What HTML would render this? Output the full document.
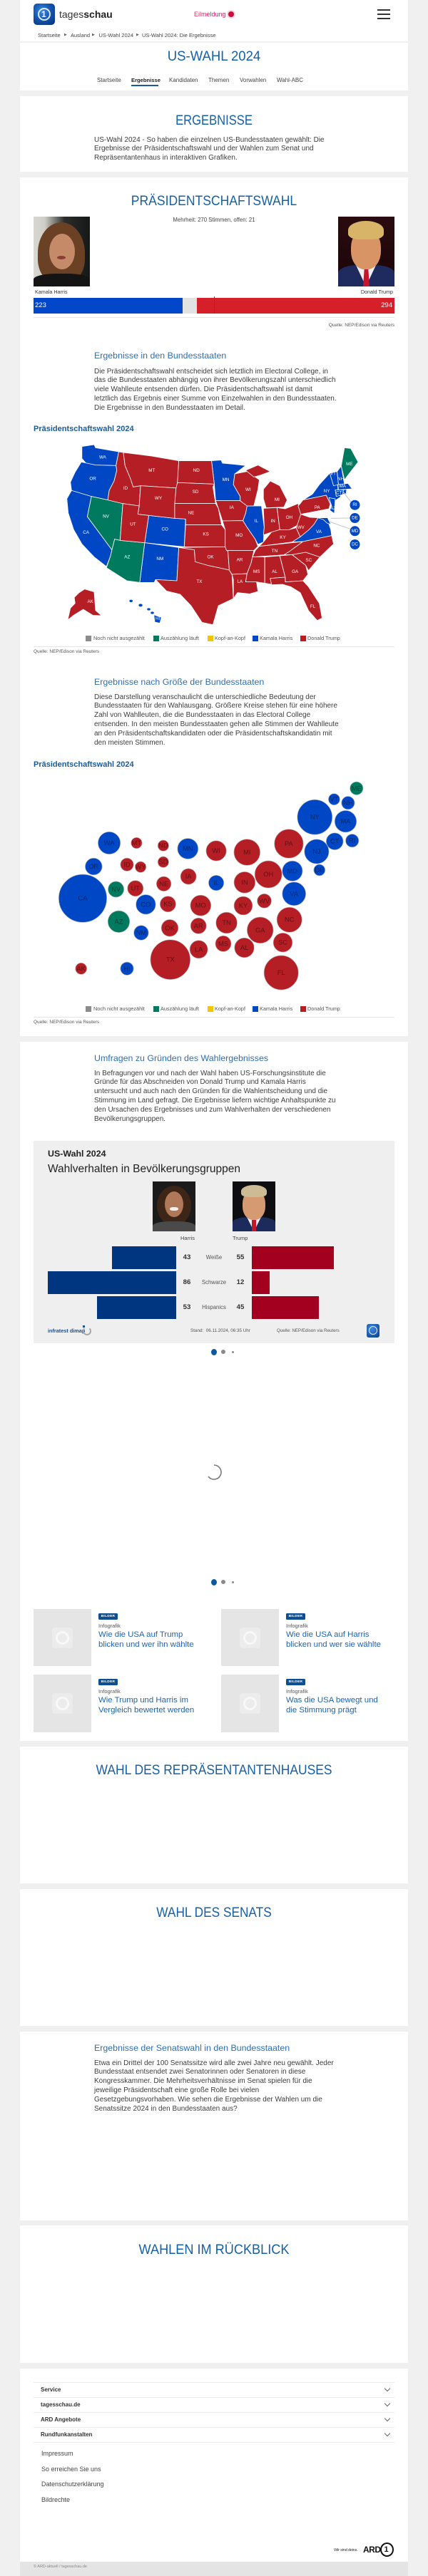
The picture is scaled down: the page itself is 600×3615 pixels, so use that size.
<!DOCTYPE html>
<html lang="de"><head><meta charset="utf-8"><title>US-Wahl 2024: Die Ergebnisse</title>
<style>
*{box-sizing:border-box}
html,body{margin:0;padding:0}
body{width:600px;height:3615px;background:#f0f0f0;position:relative;overflow:hidden;font-family:"Liberation Sans",Arial,sans-serif;color:#333}
.a{position:absolute;white-space:nowrap}
.card{position:absolute;left:28px;width:544px;background:#fff}
.h{position:absolute;left:0;width:600px;text-align:center;color:#1560a8;font-size:19.5px;line-height:24px;white-space:nowrap}
.sub{position:absolute;left:132px;color:#2c6fb4;font-size:12.4px;line-height:16px;white-space:nowrap}
.p{position:absolute;left:132px;color:#3c3c3c;font-size:10px;line-height:12.9px;white-space:nowrap}
.chart{position:absolute;left:47px;color:#1b5a9a;font-weight:bold;font-size:11px;line-height:14px;white-space:nowrap}
.lg{position:absolute;font-size:7.3px;line-height:10px;color:#555;white-space:nowrap}
.sq{position:absolute;width:8px;height:8px}
.src{position:absolute;font-size:6.5px;line-height:8px;color:#555;white-space:nowrap}
.hr{position:absolute;left:47px;width:506px;height:1px;background:#e6e6e6}
.bc{position:absolute;top:45px;font-size:7.5px;line-height:9px;color:#444;white-space:nowrap}
.ar{position:absolute;top:46px;font-size:5px;line-height:7px;color:#666}
.nav{position:absolute;top:108px;font-size:8px;line-height:10px;color:#444;white-space:nowrap}
.thumb{position:absolute;width:81px;height:80px;background:#e5e5e5}
.thumb i{position:absolute;left:26px;top:26px;width:29px;height:29px;background:#ececec;border-radius:4px}
.thumb i:after{content:"";position:absolute;left:5px;top:5px;width:19px;height:19px;border-radius:50%;border:3px solid #f8f8f8;box-sizing:border-box}
.badge{position:absolute;width:27px;height:9px;background:#0d4f91;border-radius:1.5px;color:#fff;font-size:4.8px;font-weight:bold;line-height:9px;text-align:center;letter-spacing:.3px}
.inf{position:absolute;font-size:7.5px;line-height:9px;color:#555}
.tt{position:absolute;font-size:11.4px;line-height:14px;color:#1e63ac;white-space:nowrap}
.fl{position:absolute;left:47px;width:506px;height:1px;background:#ebebeb}
.fi{position:absolute;left:57px;font-size:8px;font-weight:bold;line-height:10px;color:#333}
.chev{position:absolute;left:540px;width:6px;height:6px;border-right:1px solid #666;border-bottom:1px solid #666;transform:rotate(45deg)}
.fk{position:absolute;left:58px;font-size:9px;line-height:11px;color:#444}
.num{position:absolute;font-size:9.6px;font-weight:bold;line-height:12px;color:#333;text-align:center;width:20px}
.grp{position:absolute;font-size:7.8px;line-height:10px;color:#555;text-align:center;width:50px}
</style></head><body>

<!-- Card 1: header -->
<div class="card" style="top:0;height:127px"></div>
<div class="a" style="left:47px;top:5px;width:30px;height:30px;border-radius:5px;background:radial-gradient(circle at 40% 35%,#3d8be0 0,#1557b0 45%,#072f73 100%)"></div>
<div class="a" style="left:53px;top:11px;width:18px;height:18px;border-radius:50%;border:2px solid rgba(255,255,255,.85)"></div>
<div class="a" style="left:58px;top:12px;font-size:12px;font-weight:bold;color:#fff;line-height:16px">1</div>
<div class="a" style="left:83px;top:11px;font-size:14px;line-height:18px;color:#333">tages<b style="color:#222">schau</b></div>
<div class="a" style="left:272px;top:15px;font-size:9px;line-height:11px;color:#d02a60">Eilmeldung</div>
<div class="a" style="left:320px;top:16px;width:8px;height:8px;border-radius:50%;background:#c8103e;box-shadow:0 0 0 2px #f9d3de"></div>
<div class="a" style="left:529px;top:13px;width:18px;height:2px;background:#333"></div>
<div class="a" style="left:529px;top:19px;width:18px;height:2px;background:#333"></div>
<div class="a" style="left:529px;top:25px;width:18px;height:2px;background:#333"></div>
<div class="bc" style="left:53px">Startseite</div><div class="ar" style="left:90px">▶</div>
<div class="bc" style="left:99px">Ausland</div><div class="ar" style="left:129px">▶</div>
<div class="bc" style="left:138.5px">US-Wahl 2024</div><div class="ar" style="left:191px">▶</div>
<div class="bc" style="left:199px">US-Wahl 2024: Die Ergebnisse</div>
<div class="a" style="left:28px;top:58px;width:544px;height:2px;background:#f1f1f1"></div>
<div class="h" style="top:67px;transform:scaleX(.95)">US-WAHL 2024</div>
<div class="nav" style="left:136px">Startseite</div>
<div class="nav" style="left:184px;font-weight:bold;color:#222;font-size:7.6px">Ergebnisse</div>
<div class="a" style="left:184px;top:119px;width:38px;height:2px;background:#1b5a9a"></div>
<div class="nav" style="left:237px">Kandidaten</div>
<div class="nav" style="left:292px">Themen</div>
<div class="nav" style="left:336px">Vorwahlen</div>
<div class="nav" style="left:388px">Wahl-ABC</div>

<!-- Card 2 -->
<div class="card" style="top:135px;height:106px"></div>
<div class="h" style="top:157px;transform:scaleX(.85)">ERGEBNISSE</div>
<div class="p" style="top:190.5px">US-Wahl 2024 - So haben die einzelnen US-Bundesstaaten gewählt: Die<br>Ergebnisse der Präsidentschaftswahl und der Wahlen zum Senat und<br>Repräsentantenhaus in interaktiven Grafiken.</div>

<!-- Card 3 -->
<div class="card" style="top:249px;height:1205px"></div>
<div class="h" style="top:270px;transform:scaleX(.9)">PRÄSIDENTSCHAFTSWAHL</div>
<div class="a" style="left:0;width:600px;text-align:center;top:304px;font-size:7.8px;line-height:10px;color:#444">Mehrheit: 270 Stimmen, offen: 21</div>

<!-- Harris photo -->
<div class="a" style="left:47px;top:304px;width:79px;height:98px;overflow:hidden;background:linear-gradient(90deg,#d9d8d3 0,#cfcdc6 20%,#2b2d2b 55%,#141817 100%)">
  <div class="a" style="left:6px;top:8px;width:66px;height:86px;border-radius:50% 50% 40% 40%;background:#6a4125"></div>
  <div class="a" style="left:22px;top:24px;width:36px;height:50px;border-radius:50%;background:#c58a68"></div>
  <div class="a" style="left:33px;top:55px;width:12px;height:5px;border-radius:50%;background:#8a3d3a"></div>
  <div class="a" style="left:0;top:80px;width:79px;height:20px;border-radius:40% 40% 0 0;background:#141414"></div>
</div>
<!-- Trump photo -->
<div class="a" style="left:474px;top:304px;width:79px;height:98px;overflow:hidden;background:linear-gradient(180deg,#2a0b10,#1a0508)">
  <div class="a" style="left:0;top:68px;width:79px;height:32px;border-radius:35% 35% 0 0;background:#1f2a5e"></div>
  <div class="a" style="left:24px;top:66px;width:30px;height:32px;background:#eef0f4;clip-path:polygon(0 0,100% 0,50% 100%)"></div>
  <div class="a" style="left:35px;top:72px;width:9px;height:26px;background:#c3162a;clip-path:polygon(20% 0,80% 0,100% 100%,0 100%)"></div>
  <div class="a" style="left:18px;top:18px;width:42px;height:56px;border-radius:45%;background:#d99466"></div>
  <div class="a" style="left:14px;top:6px;width:50px;height:26px;border-radius:50% 50% 30% 30%;background:#d8b469"></div>
</div>
<div class="a" style="left:49px;top:405px;font-size:7.2px;line-height:10px;color:#333">Kamala Harris</div>
<div class="a" style="left:453px;width:98px;text-align:right;top:405px;font-size:7.2px;line-height:10px;color:#333">Donald Trump</div>
<div class="a" style="left:47px;top:418px;width:209px;height:22px;background:#0047cc"></div>
<div class="a" style="left:256px;top:418px;width:20px;height:22px;background:#e2e2e2"></div>
<div class="a" style="left:276px;top:418px;width:277px;height:22px;background:#d62029"></div>
<div class="a" style="left:300px;top:416px;width:0;height:24px;border-left:1px dotted #444"></div>
<div class="a" style="left:49px;top:423px;font-size:9.5px;line-height:12px;color:#fff">223</div>
<div class="a" style="left:500px;width:50px;text-align:right;top:423px;font-size:9.5px;line-height:12px;color:#fff">294</div>
<div class="hr" style="top:445px"></div>
<div class="src" style="left:400px;width:153px;text-align:right;top:453px">Quelle: NEP/Edison via Reuters</div>

<div class="sub" style="top:491px">Ergebnisse in den Bundesstaaten</div>
<div class="p" style="top:515.5px">Die Präsidentschaftswahl entscheidet sich letztlich im Electoral College, in<br>das die Bundesstaaten abhängig von ihrer Bevölkerungszahl unterschiedlich<br>viele Wahlleute entsenden dürfen. Die Präsidentschaftswahl ist damit<br>letztlich das Ergebnis einer Summe von Einzelwahlen in den Bundesstaaten.<br>Die Ergebnisse in den Bundesstaaten im Detail.</div>
<div class="chart" style="top:595px">Präsidentschaftswahl 2024</div>

<!-- US map -->
<svg class="a" style="left:0;top:480px" width="600" height="400" viewBox="0 0 1568 1200" preserveAspectRatio="none">
<g stroke="#fff" stroke-width="2.2" stroke-linejoin="round">
<g fill="#0047c6">
<polygon points="300,440 345,432 350,445 435,462 425,520 350,518 315,510 300,490"/>
<polygon points="298,505 350,518 425,520 428,540 418,585 400,625 395,665 335,650 262,625 258,590 275,548"/>
<polygon points="262,625 335,650 320,735 410,875 405,900 390,945 345,905 300,850 270,790 250,720 245,660"/>
<polygon points="545,730 640,742 680,745 675,862 530,845"/>
<polygon points="530,845 655,865 648,1005 570,1000 565,1012 512,1012"/>
<polygon points="775,500 810,497 815,510 860,515 900,520 860,555 855,600 880,650 880,668 790,668 785,598"/>
<polygon points="905,690 958,690 968,780 965,842 945,852 935,830 905,780 890,752 900,720"/>
<polygon points="1070,842 1100,820 1130,792 1150,768 1165,740 1200,750 1212,790 1215,815 1110,840"/>
<polygon points="1110,665 1145,640 1170,600 1208,552 1235,545 1238,620 1248,652 1210,682 1195,645"/>
<polygon points="1208,552 1235,545 1240,600 1222,605"/>
<polygon points="1235,545 1250,522 1262,598 1240,600"/>
<polygon points="1238,600 1275,595 1290,618 1240,622"/>
<polygon points="1228,622 1258,622 1256,642 1232,650"/>
<polygon points="1258,622 1270,620 1268,638 1256,642"/>
<polygon points="1205,655 1228,660 1225,722 1208,708 1215,690"/>
<polygon points="1165,740 1200,740 1212,768 1198,762 1185,748"/>
</g>
<g fill="#007a5e">
<polygon points="335,650 395,665 450,680 440,835 420,830 410,875 320,735"/>
<polygon points="440,835 530,845 512,1012 465,1005 390,950 405,900 410,875 420,830"/>
<polygon points="1250,522 1262,445 1285,448 1312,505 1275,560 1262,580"/>
</g>
<g fill="#b41e24">
<polygon points="435,462 452,465 458,520 478,575 488,610 515,605 510,690 450,680 395,665 400,625 418,585 428,540 425,520"/>
<polygon points="452,465 555,480 655,500 650,615 515,605 488,610 478,575 458,520"/>
<polygon points="515,605 650,615 640,742 505,725 510,690"/>
<polygon points="450,680 510,690 505,725 545,730 530,845 440,835"/>
<polygon points="655,500 775,500 785,598 650,592"/>
<polygon points="650,592 785,598 780,610 790,680 640,680 645,615"/>
<polygon points="640,680 790,680 800,700 812,770 680,770 680,745 640,742"/>
<polygon points="680,770 812,770 825,790 825,862 675,862"/>
<polygon points="655,865 825,862 835,880 840,960 800,950 760,940 715,925 712,875"/>
<polygon points="655,865 712,875 715,925 760,940 800,950 840,960 850,980 855,1080 800,1110 780,1190 740,1180 700,1110 660,1062 610,1048 570,1000 648,1005"/>
<polygon points="790,668 880,668 905,690 900,720 890,752 815,753 800,700"/>
<polygon points="815,753 890,752 905,780 935,830 945,860 930,878 830,878 825,862 825,790"/>
<polygon points="830,878 930,878 920,930 905,975 850,978 840,960 835,880"/>
<polygon points="850,978 905,975 900,1010 940,1010 945,1050 915,1060 870,1055 855,1080 855,1000"/>
<polygon points="860,555 905,545 950,580 945,620 930,690 905,690 880,668 880,650 855,600"/>
<polygon points="900,540 945,518 990,545 955,560 930,568"/>
<polygon points="965,620 990,585 1025,605 1052,665 1040,695 975,698 965,660"/>
<polygon points="965,700 1015,697 1025,790 995,800 965,812 968,780"/>
<polygon points="1015,697 1045,702 1092,680 1102,725 1095,768 1060,790 1025,790"/>
<polygon points="965,842 995,800 1025,790 1060,790 1085,782 1100,820 1070,842 950,860"/>
<polygon points="950,860 1070,845 1110,840 1080,865 1060,882 1040,896 925,905 935,878"/>
<polygon points="925,905 970,905 970,1015 940,1010 900,1010 905,975 920,930"/>
<polygon points="970,905 1025,900 1045,990 990,995 995,1020 970,1015"/>
<polygon points="1025,900 1070,895 1120,940 1128,978 1110,1005 1045,1010 1045,990"/>
<polygon points="990,995 1045,990 1045,1010 1110,1005 1130,1030 1170,1100 1180,1162 1162,1172 1130,1130 1100,1055 1065,1030 1035,1020 995,1022"/>
<polygon points="1070,895 1120,885 1172,905 1130,962 1120,940"/>
<polygon points="1040,896 1060,882 1080,865 1110,840 1215,815 1222,850 1172,905 1120,885 1070,895"/>
<polygon points="1092,760 1102,725 1135,738 1165,740 1150,768 1130,792 1100,820 1085,782"/>
<polygon points="1100,680 1110,665 1195,645 1210,682 1205,702 1102,725 1092,690"/>
<polygon points="290,1055 310,1040 345,1052 350,1130 372,1152 340,1150 305,1125 270,1150 248,1170 258,1120 275,1100 272,1075"/>
</g>
</g>
<g fill="#0047c6">
<ellipse cx="480" cy="1090" rx="6" ry="5"/><ellipse cx="515" cy="1108" rx="7" ry="6"/><ellipse cx="545" cy="1125" rx="6" ry="5"/><ellipse cx="558" cy="1140" rx="6" ry="5"/>
<polygon points="565,1150 590,1160 585,1182 568,1178"/>
</g>
<g stroke="#c8c8c8" stroke-width="3" fill="none">
<line x1="1258" y1="632" x2="1288" y2="676"/><line x1="1212" y1="742" x2="1282" y2="741"/><line x1="1206" y1="756" x2="1286" y2="788"/>
</g>
</svg>
<svg class="a" style="left:0;top:480px" width="600" height="400" viewBox="0 0 600 400">
<g fill="#0047c6"><circle cx="497.5" cy="228.7" r="7"/><circle cx="497.5" cy="247" r="7"/><circle cx="497.5" cy="265.3" r="7"/><circle cx="497.5" cy="284" r="7"/></g>
<g fill="#fff" font-family="Liberation Sans, Arial, sans-serif" font-size="6.3" text-anchor="middle" dominant-baseline="central">
<text x="143.9" y="162">WA</text><text x="130.1" y="192">OR</text><text x="120.6" y="267.3">CA</text><text x="148.5" y="245">NV</text><text x="176" y="205.7">ID</text><text x="212.8" y="180.3">MT</text><text x="222" y="219.3">WY</text><text x="186.4" y="256">UT</text><text x="231.2" y="263">CO</text><text x="178.3" y="302">AZ</text><text x="224.3" y="304.3">NM</text><text x="275.2" y="180.3">ND</text><text x="274" y="210.3">SD</text><text x="267.9" y="240">NE</text><text x="288.6" y="270">KS</text><text x="295.1" y="302">OK</text><text x="279.4" y="336.7">TX</text><text x="316.5" y="193.3">MN</text><text x="324.9" y="232.7">IA</text><text x="335.2" y="271.7">MO</text><text x="336" y="306">AR</text><text x="336.4" y="336.7">LA</text><text x="347.9" y="207.7">WI</text><text x="359.4" y="251.7">IL</text><text x="388.4" y="221.3">MI</text><text x="382.7" y="251.7">IN</text><text x="405.3" y="246.7">OH</text><text x="396.5" y="274.3">KY</text><text x="385" y="293.3">TN</text><text x="359.7" y="322.7">MS</text><text x="385" y="322.7">AL</text><text x="413.7" y="322.7">GA</text><text x="438.6" y="371.7">FL</text><text x="432.8" y="306.7">SC</text><text x="443.9" y="286">NC</text><text x="447" y="266.7">VA</text><text x="421.7" y="260.7">WV</text><text x="444.7" y="232.7">PA</text><text x="458.1" y="209.3">NY</text><text x="466.9" y="185">VT</text><text x="477.6" y="192.3">NH</text><text x="489.9" y="171.3">ME</text><text x="480.3" y="202.7">MA</text><text x="475.3" y="212">CT</text><text x="466.1" y="233.3">NJ</text><text x="126.7" y="364.3">AK</text><text x="221.2" y="388.3">HI</text>
<text x="497.5" y="228.7">RI</text><text x="497.5" y="247">DE</text><text x="497.5" y="265.3">MD</text><text x="497.5" y="284">DC</text>
</g>
</svg>

<!-- Legend 1 -->
<div class="sq" style="left:120px;top:892px;background:#8c8c8c"></div><div class="lg" style="left:131px;top:891px">Noch nicht ausgezählt</div>
<div class="sq" style="left:215px;top:892px;background:#007a5e"></div><div class="lg" style="left:225px;top:891px">Auszählung läuft</div>
<div class="sq" style="left:291px;top:892px;background:#f2c500"></div><div class="lg" style="left:301px;top:891px">Kopf-an-Kopf</div>
<div class="sq" style="left:354px;top:892px;background:#0047c6"></div><div class="lg" style="left:364px;top:891px">Kamala Harris</div>
<div class="sq" style="left:421px;top:892px;background:#b41e24"></div><div class="lg" style="left:431px;top:891px">Donald Trump</div>
<div class="hr" style="top:907px"></div>
<div class="src" style="left:47px;top:911px">Quelle: NEP/Edison via Reuters</div>

<div class="sub" style="top:949px">Ergebnisse nach Größe der Bundesstaaten</div>
<div class="p" style="top:972.5px">Diese Darstellung veranschaulicht die unterschiedliche Bedeutung der<br>Bundesstaaten für den Wahlausgang. Größere Kreise stehen für eine höhere<br>Zahl von Wahlleuten, die die Bundesstaaten in das Electoral College<br>entsenden. In den meisten Bundesstaaten gehen alle Stimmen der Wahlleute<br>an den Präsidentschaftskandidaten oder die Präsidentschaftskandidatin mit<br>den meisten Stimmen.</div>
<div class="chart" style="top:1066px">Präsidentschaftswahl 2024</div>

<!-- Bubble map -->
<svg class="a" style="left:0;top:880px" width="600" height="520" viewBox="0 0 600 520">
<g stroke="#bdbdbd" stroke-width=".7">
<g fill="#0047c6">
<circle cx="468.4" cy="241.7" r="8"/><circle cx="487.9" cy="246.7" r="9.2"/><circle cx="441.3" cy="266.7" r="24.5"/><circle cx="484.5" cy="272.7" r="15.3"/><circle cx="469.2" cy="300.7" r="11.9"/><circle cx="493.7" cy="299.7" r="9.2"/><circle cx="443.9" cy="315" r="17.2"/><circle cx="447.8" cy="341" r="8"/><circle cx="153.1" cy="303" r="15.7"/><circle cx="263.3" cy="311" r="14.5"/><circle cx="131.3" cy="336" r="11.9"/><circle cx="303.1" cy="359" r="10.7"/><circle cx="409.9" cy="342.3" r="14.2"/><circle cx="116" cy="380.7" r="33.7"/><circle cx="204.4" cy="389.3" r="13.8"/><circle cx="412.2" cy="374.3" r="16.5"/><circle cx="197.9" cy="429" r="10.3"/><circle cx="178" cy="479.3" r="9.2"/>
</g>
<g fill="#007a5e"><circle cx="499.8" cy="226.3" r="9.2"/><circle cx="162.6" cy="368" r="11.1"/><circle cx="166.5" cy="413.3" r="15.3"/></g>
<g fill="#b41e24">
<circle cx="404.9" cy="304" r="20.3"/><circle cx="191.4" cy="303" r="7.7"/><circle cx="228.9" cy="306.7" r="7.7"/><circle cx="303.1" cy="314" r="14.2"/><circle cx="346.3" cy="316" r="18.4"/><circle cx="178" cy="333.3" r="9.2"/><circle cx="197.1" cy="336.7" r="7.7"/><circle cx="228.9" cy="329.7" r="7.7"/><circle cx="264.1" cy="350" r="11.1"/><circle cx="342.9" cy="358.3" r="14.9"/><circle cx="376.2" cy="347" r="19.1"/><circle cx="189.8" cy="366.7" r="11.1"/><circle cx="229.6" cy="360.3" r="10.3"/><circle cx="235.4" cy="388.7" r="11.1"/><circle cx="281.3" cy="390.7" r="14.5"/><circle cx="341" cy="391" r="13"/><circle cx="370.5" cy="384.3" r="10"/><circle cx="238" cy="422.3" r="11.9"/><circle cx="278.2" cy="419.3" r="11.1"/><circle cx="317.6" cy="415" r="14.9"/><circle cx="364.7" cy="425.3" r="18.4"/><circle cx="405.7" cy="410.7" r="17.6"/><circle cx="396.5" cy="442.7" r="13.4"/><circle cx="238.8" cy="466.7" r="27.9"/><circle cx="278.6" cy="452.3" r="12.6"/><circle cx="313" cy="444.3" r="11.1"/><circle cx="342.5" cy="450" r="13.8"/><circle cx="394.2" cy="485" r="24.1"/><circle cx="113.7" cy="479.3" r="8"/>
</g>
</g>
<g fill="rgba(0,0,0,.45)" font-family="Liberation Sans, Arial, sans-serif" font-size="9.3" text-anchor="middle" dominant-baseline="central">
<text x="499.8" y="226.3">ME</text><text x="468.4" y="241.7">VT</text><text x="487.9" y="246.7">NH</text><text x="441.3" y="266.7">NY</text><text x="484.5" y="272.7">MA</text><text x="404.9" y="304">PA</text><text x="469.2" y="300.7">CT</text><text x="493.7" y="299.7">RI</text><text x="443.9" y="315">NJ</text><text x="447.8" y="341">DE</text><text x="153.1" y="303">WA</text><text x="191.4" y="303">MT</text><text x="228.9" y="306.7">ND</text><text x="263.3" y="311">MN</text><text x="303.1" y="314">WI</text><text x="346.3" y="316">MI</text><text x="131.3" y="336">OR</text><text x="178" y="333.3">ID</text><text x="197.1" y="336.7">WY</text><text x="228.9" y="329.7">SD</text><text x="264.1" y="350">IA</text><text x="303.1" y="359">IL</text><text x="342.9" y="358.3">IN</text><text x="376.2" y="347">OH</text><text x="409.9" y="342.3">MD</text><text x="116" y="380.7">CA</text><text x="162.6" y="368">NV</text><text x="189.8" y="366.7">UT</text><text x="229.6" y="360.3">NE</text><text x="204.4" y="389.3">CO</text><text x="235.4" y="388.7">KS</text><text x="281.3" y="390.7">MO</text><text x="341" y="391">KY</text><text x="370.5" y="384.3">WV</text><text x="412.2" y="374.3">VA</text><text x="166.5" y="413.3">AZ</text><text x="197.9" y="429">NM</text><text x="238" y="422.3">OK</text><text x="278.2" y="419.3">AR</text><text x="317.6" y="415">TN</text><text x="364.7" y="425.3">GA</text><text x="405.7" y="410.7">NC</text><text x="396.5" y="442.7">SC</text><text x="238.8" y="466.7">TX</text><text x="278.6" y="452.3">LA</text><text x="313" y="444.3">MS</text><text x="342.5" y="450">AL</text><text x="394.2" y="485">FL</text><text x="113.7" y="479.3">AK</text><text x="178" y="479.3">HI</text>
</g>
</svg>

<!-- Legend 2 -->
<div class="sq" style="left:120px;top:1412px;background:#8c8c8c"></div><div class="lg" style="left:131px;top:1411px">Noch nicht ausgezählt</div>
<div class="sq" style="left:215px;top:1412px;background:#007a5e"></div><div class="lg" style="left:225px;top:1411px">Auszählung läuft</div>
<div class="sq" style="left:291px;top:1412px;background:#f2c500"></div><div class="lg" style="left:301px;top:1411px">Kopf-an-Kopf</div>
<div class="sq" style="left:354px;top:1412px;background:#0047c6"></div><div class="lg" style="left:364px;top:1411px">Kamala Harris</div>
<div class="sq" style="left:421px;top:1412px;background:#b41e24"></div><div class="lg" style="left:431px;top:1411px">Donald Trump</div>
<div class="hr" style="top:1427px"></div>
<div class="src" style="left:47px;top:1431px">Quelle: NEP/Edison via Reuters</div>

<!-- Card 4 -->
<div class="card" style="top:1462px;height:981px"></div>
<div class="sub" style="top:1477px">Umfragen zu Gründen des Wahlergebnisses</div>
<div class="p" style="top:1500.5px">In Befragungen vor und nach der Wahl haben US-Forschungsinstitute die<br>Gründe für das Abschneiden von Donald Trump und Kamala Harris<br>untersucht und auch nach den Gründen für die Wahlentscheidung und die<br>Stimmung im Land gefragt. Die Ergebnisse liefern wichtige Anhaltspunkte zu<br>den Ursachen des Ergebnisses und zum Wahlverhalten der verschiedenen<br>Bevölkerungsgruppen.</div>

<div class="a" style="left:47px;top:1601px;width:506px;height:284px;background:#efefef"></div>
<div class="a" style="left:67px;top:1611px;font-size:12.4px;font-weight:bold;line-height:16px;color:#222">US-Wahl 2024</div>
<div class="a" style="left:67px;top:1631px;font-size:15.5px;line-height:20px;color:#222">Wahlverhalten in Bevölkerungsgruppen</div>
<!-- survey photos -->
<div class="a" style="left:214px;top:1658px;width:60px;height:70px;overflow:hidden;background:#1b1b1b">
  <div class="a" style="left:6px;top:6px;width:48px;height:56px;border-radius:50%;background:#3d2517"></div>
  <div class="a" style="left:17px;top:14px;width:26px;height:36px;border-radius:50%;background:#b07858"></div>
  <div class="a" style="left:24px;top:36px;width:12px;height:5px;border-radius:40%;background:#f2efe8"></div>
  <div class="a" style="left:0;top:56px;width:60px;height:16px;border-radius:40% 40% 0 0;background:#4a4a4a"></div>
</div>
<div class="a" style="left:326px;top:1658px;width:60px;height:70px;overflow:hidden;background:#0e0e10">
  <div class="a" style="left:0;top:50px;width:60px;height:22px;border-radius:35% 35% 0 0;background:#1d2a5c"></div>
  <div class="a" style="left:20px;top:50px;width:20px;height:20px;background:#f0f0f0;clip-path:polygon(0 0,100% 0,50% 100%)"></div>
  <div class="a" style="left:27px;top:54px;width:6px;height:16px;background:#c3162a"></div>
  <div class="a" style="left:14px;top:12px;width:32px;height:42px;border-radius:45%;background:#d59a72"></div>
  <div class="a" style="left:12px;top:5px;width:36px;height:17px;border-radius:50% 50% 30% 30%;background:#cdbb95"></div>
</div>
<div class="a" style="left:223px;width:50px;text-align:right;top:1733px;font-size:7.5px;line-height:10px;color:#444">Harris</div>
<div class="a" style="left:326px;top:1733px;font-size:7.5px;line-height:10px;color:#444">Trump</div>
<!-- bars -->
<div class="a" style="left:157px;top:1749px;width:90px;height:32px;background:#003580"></div>
<div class="a" style="left:353px;top:1749px;width:115px;height:32px;background:#a3001f"></div>
<div class="num" style="left:252px;top:1759px">43</div><div class="grp" style="left:275px;top:1760px">Weiße</div><div class="num" style="left:327px;top:1759px">55</div>
<div class="a" style="left:67px;top:1784px;width:180px;height:32px;background:#003580"></div>
<div class="a" style="left:353px;top:1784px;width:25px;height:32px;background:#a3001f"></div>
<div class="num" style="left:252px;top:1794px">86</div><div class="grp" style="left:275px;top:1795px">Schwarze</div><div class="num" style="left:327px;top:1794px">12</div>
<div class="a" style="left:136px;top:1819px;width:111px;height:32px;background:#003580"></div>
<div class="a" style="left:353px;top:1819px;width:94px;height:32px;background:#a3001f"></div>
<div class="num" style="left:252px;top:1829px">53</div><div class="grp" style="left:275px;top:1830px">Hispanics</div><div class="num" style="left:327px;top:1829px">45</div>
<!-- graphic footer -->
<div class="a" style="left:67px;top:1863px;font-size:7.3px;font-weight:bold;line-height:10px;color:#1f4f8c">infratest dimap</div>
<div class="a" style="left:116px;top:1862px;width:12px;height:12px;border-radius:50%;border:2px solid #a8a8a8;border-top-color:transparent"></div>
<div class="a" style="left:116px;top:1860px;width:3px;height:3px;background:#1f4f8c"></div>
<div class="a" style="left:267px;top:1864px;font-size:6.3px;line-height:8px;color:#555">Stand:&nbsp; 06.11.2024, 06:35 Uhr</div>
<div class="a" style="left:388px;top:1864px;font-size:6.2px;line-height:8px;color:#555">Quelle: NEP/Edison via Reuters</div>
<div class="a" style="left:514px;top:1858px;width:18px;height:19px;border-radius:3px;background:radial-gradient(circle at 40% 35%,#3d8be0,#0a3b88)"></div>
<div class="a" style="left:517px;top:1861px;width:12px;height:12px;border-radius:50%;border:1.5px solid rgba(255,255,255,.85)"></div>
<!-- dots -->
<div class="a" style="left:296px;top:1893px;width:8px;height:9px;border-radius:50%;background:#0a5aa0"></div>
<div class="a" style="left:310px;top:1894px;width:6px;height:6px;border-radius:50%;background:#8a8a8a"></div>
<div class="a" style="left:324.5px;top:1895.5px;width:3px;height:3px;border-radius:50%;background:#8a8a8a"></div>
<!-- spinner -->
<svg class="a" style="left:288px;top:2054px" width="24" height="24" viewBox="0 0 24 24"><path d="M12 2 A10 10 0 1 1 4 18" fill="none" stroke="#7a7a7a" stroke-width="1.6"/></svg>
<div class="a" style="left:296px;top:2216px;width:8px;height:9px;border-radius:50%;background:#0a5aa0"></div>
<div class="a" style="left:310px;top:2217px;width:6px;height:6px;border-radius:50%;background:#8a8a8a"></div>
<div class="a" style="left:324.5px;top:2218.5px;width:3px;height:3px;border-radius:50%;background:#8a8a8a"></div>
<!-- teasers -->
<div class="thumb" style="left:47px;top:2258px"><i></i></div>
<div class="badge" style="left:138px;top:2264px">BILDER</div>
<div class="inf" style="left:138px;top:2276.5px">Infografik</div>
<div class="tt" style="left:138px;top:2287px">Wie die USA auf Trump<br>blicken und wer ihn wählte</div>
<div class="thumb" style="left:310px;top:2258px"><i></i></div>
<div class="badge" style="left:401px;top:2264px">BILDER</div>
<div class="inf" style="left:401px;top:2276.5px">Infografik</div>
<div class="tt" style="left:401px;top:2287px">Wie die USA auf Harris<br>blicken und wer sie wählte</div>
<div class="thumb" style="left:47px;top:2350px;height:81px"><i></i></div>
<div class="badge" style="left:138px;top:2356px">BILDER</div>
<div class="inf" style="left:138px;top:2368.5px">Infografik</div>
<div class="tt" style="left:138px;top:2379px">Wie Trump und Harris im<br>Vergleich bewertet werden</div>
<div class="thumb" style="left:310px;top:2350px;height:81px"><i></i></div>
<div class="badge" style="left:401px;top:2356px">BILDER</div>
<div class="inf" style="left:401px;top:2368.5px">Infografik</div>
<div class="tt" style="left:401px;top:2379px">Was die USA bewegt und<br>die Stimmung prägt</div>

<!-- Card 5 -->
<div class="card" style="top:2451px;height:192px"></div>
<div class="h" style="top:2472px;transform:scaleX(.895)">WAHL DES REPRÄSENTANTENHAUSES</div>
<!-- Card 6 -->
<div class="card" style="top:2651px;height:192px"></div>
<div class="h" style="top:2672px;transform:scaleX(.885)">WAHL DES SENATS</div>
<!-- Card 7 -->
<div class="card" style="top:2851px;height:265px"></div>
<div class="sub" style="top:2866px">Ergebnisse der Senatswahl in den Bundesstaaten</div>
<div class="p" style="top:2889.5px">Etwa ein Drittel der 100 Senatssitze wird alle zwei Jahre neu gewählt. Jeder<br>Bundesstaat entsendet zwei Senatorinnen oder Senatoren in diese<br>Kongresskammer. Die Mehrheitsverhältnisse im Senat spielen für die<br>jeweilige Präsidentschaft eine große Rolle bei vielen<br>Gesetzgebungsvorhaben. Wie sehen die Ergebnisse der Wahlen um die<br>Senatssitze 2024 in den Bundesstaaten aus?</div>
<!-- Card 8 -->
<div class="card" style="top:3123px;height:193px"></div>
<div class="h" style="top:3145px;transform:scaleX(.93)">WAHLEN IM RÜCKBLICK</div>

<!-- Footer -->
<div class="card" style="top:3324px;height:271px"></div>
<div class="fl" style="top:3343px"></div>
<div class="fi" style="top:3349px">Service</div><div class="chev" style="top:3349px"></div>
<div class="fl" style="top:3364px"></div>
<div class="fi" style="top:3370px">tagesschau.de</div><div class="chev" style="top:3370px"></div>
<div class="fl" style="top:3385px"></div>
<div class="fi" style="top:3391px">ARD Angebote</div><div class="chev" style="top:3391px"></div>
<div class="fl" style="top:3406px"></div>
<div class="fi" style="top:3412px">Rundfunkanstalten</div><div class="chev" style="top:3412px"></div>
<div class="fl" style="top:3427px"></div>
<div class="fk" style="top:3437.5px">Impressum</div>
<div class="fk" style="top:3459.5px">So erreichen Sie uns</div>
<div class="fk" style="top:3480.5px">Datenschutzerklärung</div>
<div class="fk" style="top:3502.5px">Bildrechte</div>
<div class="a" style="left:468px;top:3575px;font-size:5.8px;line-height:8px;color:#333;letter-spacing:-.3px">Wir sind deins.</div>
<div class="a" style="left:509px;top:3571px;font-size:12px;font-weight:bold;line-height:14px;color:#111;letter-spacing:-.5px">ARD</div>
<div class="a" style="left:533px;top:3568px;width:19px;height:20px;border-radius:50%;border:2.5px solid #111"></div>
<div class="a" style="left:538.5px;top:3571px;font-size:11px;font-weight:bold;line-height:14px;color:#111">1</div>
<div class="a" style="left:28px;top:3595px;width:544px;height:20px;background:#e4e4e4"></div>
<div class="a" style="left:47px;top:3599px;font-size:5.5px;line-height:7px;color:#888">© ARD-aktuell / tagesschau.de</div>

</body></html>
